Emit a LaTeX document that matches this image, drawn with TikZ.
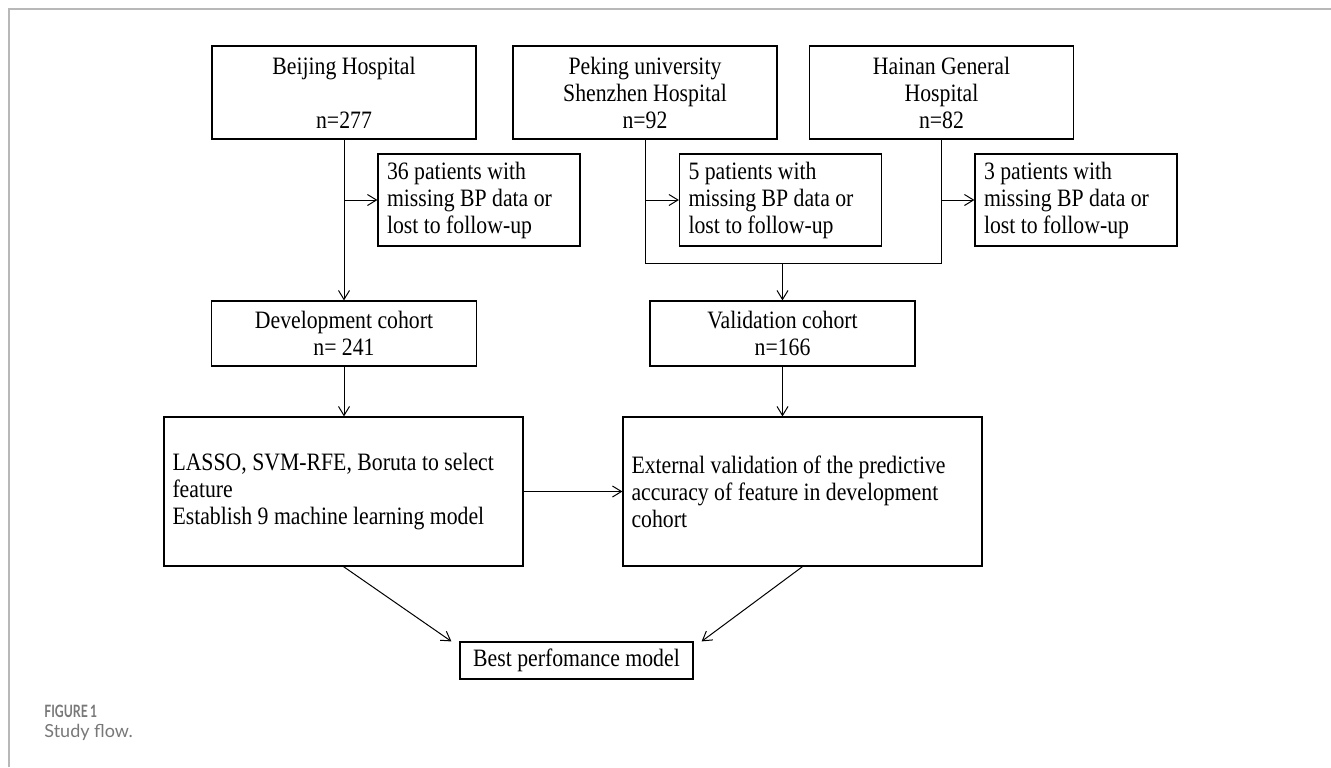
\documentclass[tikz,border=0pt]{standalone}
\usepackage{fontspec}
\setmainfont[FakeStretch=0.87]{Liberation Serif}
\newfontfamily\capfont{Lato}
\newfontfamily\caplabelfont[FakeStretch=0.72,WordSpace=0.8]{Lato}
\usepackage{tikz}
\usetikzlibrary{arrows.meta}
\definecolor{framegray}{HTML}{B8B8B8}
\definecolor{capgray}{HTML}{787878}

\begin{document}
\begin{tikzpicture}[x=0.5pt,y=-0.5pt,>={Straight Barb[length=4.5pt,width=5.5pt]},
    every node/.style={font=\fontsize{12.5}{13.5}\selectfont},
    box/.style={draw,line width=0.6pt,align=center,inner sep=0pt},
    site/.style={box,minimum width=132pt,minimum height=46.5pt},
    lost/.style={box,align=flush left,text width=92pt,inner xsep=4.5pt,minimum height=46pt},
    cohort/.style={box,minimum width=132.5pt,minimum height=32.5pt},
    stage/.style={box,align=flush left,text width=171pt,inner xsep=4.25pt,minimum height=74.5pt},
    link/.style={line width=0.5pt}]
    \useasboundingbox (0,0) rectangle (1331,767);
    \draw[line width=1pt,framegray] (9,767) -- (9,9) -- (1331,9);

    \node[site] (beijing) at (344,92.5) {Beijing Hospital\\[13.5pt]n=277};
    \node[site] (peking) at (645,92.5) {Peking university\\Shenzhen Hospital\\n=92};
    \node[site] (hainan) at (941.5,92.5) {Hainan General\\Hospital\\n=82};
    \node[lost] (lost36) at (479,200) {36 patients with\\missing BP data or\\lost to follow-up};
    \node[lost] (lost5) at (780.5,200) {5 patients with\\missing BP data or\\lost to follow-up};
    \node[lost] (lost3) at (1076,200) {3 patients with\\missing BP data or\\lost to follow-up};
    \node[cohort] (dev) at (344,333.5) {Development cohort\\n= 241};
    \node[cohort] (val) at (782.5,333.5) {Validation cohort\\n=166};
    \node[stage] (select) at (343.5,491.5) {LASSO, SVM-RFE, Boruta to select\\feature\\Establish 9 machine learning model};
    \node[stage] (extval) at (802.5,491.5) {External validation of the predictive\\accuracy of feature in development\\cohort};
    \node[box,minimum width=116.5pt,minimum height=18.5pt] (best) at (576.5,660.5) {Best perfomance model};
    \coordinate (merge) at (782.5,263);

    % exclusions and pooling
    \draw[link,->] (beijing) -- (dev);
    \draw[link,->] (beijing.south |- lost36) -- (lost36);
    \draw[link] (peking.south) |- (merge) -| (hainan.south);
    \draw[link,->] (peking.south |- lost5) -- (lost5);
    \draw[link,->] (hainan.south |- lost3) -- (lost3);
    \draw[link,->] (merge) -- (val);

    % modelling
    \draw[link,->] (dev.south) -- (dev.south |- select.north);
    \draw[link,->] (val.south) -- (val.south |- extval.north);
    \draw[link,->] (select) -- (extval);
    \draw[link,->] (select.south) -- ([xshift=-4pt]best.north west);
    \draw[link,->] (extval.south) -- ([xshift=4pt]best.north east);

    \node[anchor=base west,inner sep=0pt,text=capgray,font=\caplabelfont\bfseries\fontsize{8.5}{9}\selectfont] (figlabel) at (44,717) {FIGURE 1};
    \node[anchor=base west,inner sep=0pt,text=capgray,font=\capfont\fontsize{9}{11}\selectfont] (figcaption) at (44,737) {Study flow.};
\end{tikzpicture}
\end{document}
